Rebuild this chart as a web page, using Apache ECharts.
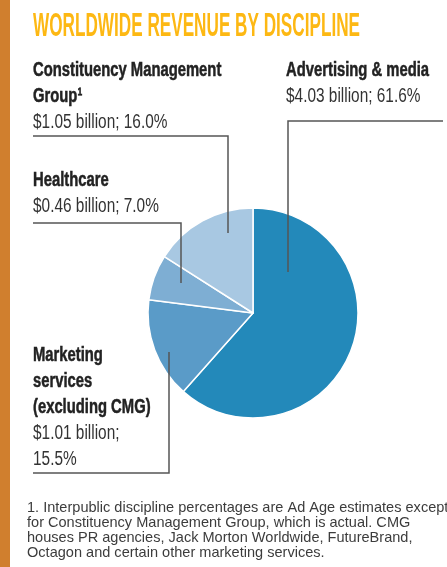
<!DOCTYPE html>
<html>
<head>
<meta charset="utf-8">
<script src="https://cdn.jsdelivr.net/npm/echarts@6/dist/echarts.min.js"></script>
<style>
  html, body { margin: 0; padding: 0; background: #fff; }
  #chart { width: 447px; height: 567px; }
</style>
</head>
<body>
<div id="chart"></div>
<script>
// revenue by discipline, clockwise from 12 o'clock
var categories = ['Advertising & media', 'Marketing\nservices\n(excluding CMG)', 'Healthcare', 'Constituency Management\nGroup\u00b9'];
var revenue = [4.03, 1.01, 0.46, 1.05];   // $ billion
var shares = [61.6, 15.5, 7.0, 16.0];     // percent
var colors = ['#2389ba', '#5a9bc8', '#7eaed3', '#a8c8e2'];
var footnote = [
    '1. Interpublic discipline percentages are Ad Age estimates except',
    'for Constituency Management Group, which is actual. CMG',
    'houses PR agencies, Jack Morton Worldwide, FutureBrand,',
    'Octagon and certain other marketing services.'
];

// where each label block sits + its leader line
var labelPos = [
    { x: 286, y: 57, valueBreak: false, line: [[443, 121], [288, 121], [288, 272]] },
    { x: 33, y: 342, valueBreak: true, line: [[33, 473], [169, 473], [169, 352]] },
    { x: 33, y: 167, valueBreak: false, line: [[33, 223], [181, 223], [181, 283]] },
    { x: 33, y: 57, valueBreak: false, line: [[33, 136], [228, 136], [228, 233]] }
];

var chart = echarts.init(document.getElementById('chart'), null, { renderer: 'canvas' });

var FONT = '"Liberation Sans", Arial, sans-serif';
var LH = 26;
var graphics = [];

graphics.push({ type: 'rect', shape: { x: 0, y: 0, width: 10, height: 567 }, style: { fill: '#d07f2e' } });
graphics.push({
    type: 'text', x: 33, y: 10, scaleX: 0.52,
    style: { text: 'WORLDWIDE REVENUE BY DISCIPLINE', font: 'bold 33px ' + FONT, fill: '#fdb813', verticalAlign: 'top' }
});

categories.forEach(function (name, i) {
    var p = labelPos[i];
    var nLines = name.split('\n').length;
    var val = '$' + revenue[i].toFixed(2) + ' billion;' + (p.valueBreak ? '\n' : ' ') + shares[i].toFixed(1) + '%';
    graphics.push({
        type: 'text', x: p.x, y: p.y, scaleX: 0.74,
        style: {
            text: name, font: 'bold 20px ' + FONT, fill: '#222', lineHeight: LH, verticalAlign: 'top',
            stroke: '#222', lineWidth: 0.5
        }
    });
    graphics.push({
        type: 'text', x: p.x, y: p.y + nLines * LH, scaleX: 0.77,
        style: { text: val, font: '20px ' + FONT, fill: '#333', lineHeight: LH, verticalAlign: 'top' }
    });
    graphics.push({
        type: 'polyline', z: 10, shape: { points: p.line },
        style: { stroke: '#555', lineWidth: 1.5, fill: null }
    });
});

graphics.push({
    type: 'text', x: 27, y: 500, scaleX: 0.97,
    style: { text: footnote.join('\n'), font: '15px ' + FONT, fill: '#3c3c3c', lineHeight: 15, verticalAlign: 'top' }
});

var option = {
    animation: false,
    series: [{
        type: 'pie',
        center: [253, 313],
        radius: [0, 105],
        startAngle: 90,
        clockwise: true,
        silent: true,
        label: { show: false },
        labelLine: { show: false },
        itemStyle: { borderColor: '#fff', borderWidth: 1.5 },
        data: categories.map(function (c, i) {
            return { name: c, value: shares[i], itemStyle: { color: colors[i] } };
        })
    }],
    graphic: graphics
};
chart.setOption(option);
</script>
</body>
</html>
